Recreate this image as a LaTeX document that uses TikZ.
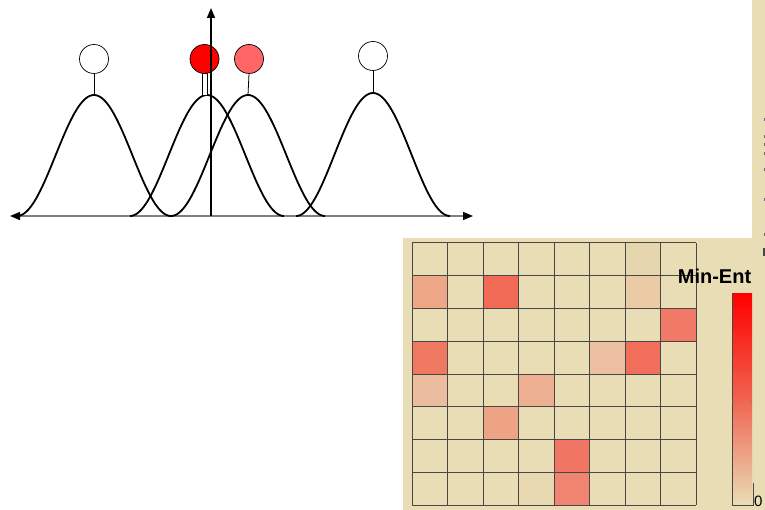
\documentclass[tikz,border=0pt]{standalone}
\usepackage{fontspec}
\setmainfont{Liberation Sans}
\usetikzlibrary{arrows.meta}
\definecolor{beige}{HTML}{E9DDB6}
\definecolor{gridc}{HTML}{4A4646}
\definecolor{lightred}{HTML}{FF6666}
\tikzset{
  bump/.style={line width=1.8pt, black},
  ball/.style={circle, draw=black, line width=0.7pt, minimum size=29pt, inner sep=0pt},
  stem/.style={line width=0.8pt, black},
  axisv/.style={line width=1.6pt, black, -{Triangle[length=10pt,width=8pt]}},
  axish/.style={line width=1.3pt, gray, {Triangle[length=10pt,width=8pt,black]}-{Triangle[length=10pt,width=8pt,black]}},
  cell/.style={draw=gridc, line width=0.9pt},
  label/.style={font=\bfseries\fontsize{20pt}{20pt}\selectfont, inner sep=0pt}
}
\begin{document}
\begin{tikzpicture}[x=1pt,y=-1pt]
\useasboundingbox (0,0) rectangle (765,510);
% ---- top plot ----
\coordinate (hl) at (10,216);
\coordinate (hr) at (473,216);
\coordinate (vb) at (211,216);
\coordinate (vt) at (211,8);
\draw[axish] (hl) -- (hr);
\foreach \c/\p in {94/95, 207/95, 248/95, 373/93}{
  \draw[bump] plot[domain=\c-77:\c+77, samples=100, smooth] (\x, {216-(216-\p)*(1+cos(180*(\x-\c)/77))/2});
}
\coordinate (p1) at (94,95);
\coordinate (p2) at (207,95);
\coordinate (p3) at (248,95);
\coordinate (p4) at (373,93);
\node[ball, fill=white] (c1) at (94,59) {};
\node[ball, fill=red] (c2) at (204.5,59) {};
\node[ball, fill=lightred] (c3) at (249,59) {};
\node[ball, fill=white] (c4) at (373,56) {};
\draw[stem] (c1.south) -- (p1);
\draw[stem] (c3.south) -- (p3);
\draw[stem] (c4.south) -- (p4);
\draw[stem, fill=white] (202.5,73.5) rectangle (207,95);
\draw[axisv] (vb) -- (vt);
% ---- heat map panel ----
\fill[beige] (403,238) rectangle (765,510);
\fill[beige] (752,0) rectangle (765,238);
\foreach \yy in {118,135,143,152,168,198,233}{
  \fill[gridc!80] (763.5,\yy) rectangle (765,\yy+3);
}
\fill[gridc] (763,248) rectangle (765,256);
% cells
\def\gx{412}\def\gy{243}\def\cw{35.5}\def\ch{32.75}
\foreach \r/\cc/\col in {
  0/6/E6D6AE, 7/3/E7D8AF,
  1/0/EEA787, 1/2/F06A55, 1/6/EACBA5,
  2/7/F07A65,
  3/0/EF7861, 3/5/EBBF9F, 3/6/F06E5A,
  4/0/EBBC9E, 4/3/EDB093,
  5/2/EEA385,
  6/4/F07663,
  7/4/F08470}{
  \definecolor{tmp}{HTML}{\col}
  \fill[tmp] (\gx+\cc*\cw, \gy+\r*\ch) rectangle ++(\cw,\ch);
}
\foreach \i in {0,...,8}{
  \draw[gridc, line width=1pt] (\gx+\i*\cw, \gy) -- (\gx+\i*\cw, \gy+8*\ch);
  \draw[gridc, line width=1pt] (\gx, \gy+\i*\ch) -- (\gx+8*\cw, \gy+\i*\ch);
}
% colour bar
\shade[top color=red, bottom color=beige, middle color={rgb,255:red,240;green,100;blue,80}] (732,294) rectangle (752,505);
\draw[gridc, line width=0.9pt] (732,294) -- (732,505) -- (753,505) -- (753,483);
\draw[gridc!70, line width=0.6pt] (732,401) -- (734.5,401) (750,401) -- (752,401);
\node[label] (title) at (714.5,276.5) {Min-Ent};
\node[font=\fontsize{15pt}{15pt}\selectfont, anchor=north west, inner sep=0pt] (zero) at (754,496) {0};
\end{tikzpicture}
\end{document}
